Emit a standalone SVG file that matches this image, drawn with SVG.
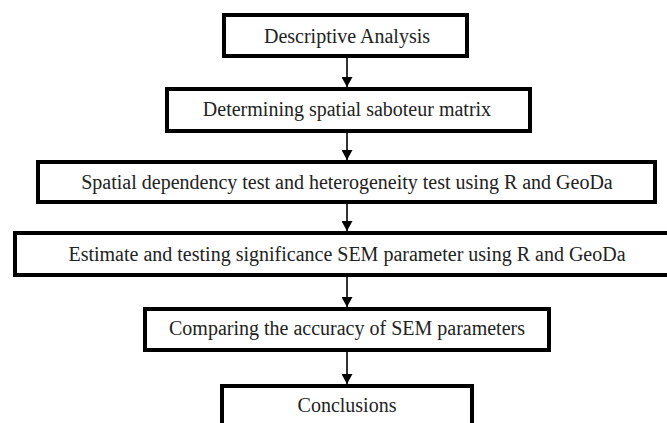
<svg xmlns="http://www.w3.org/2000/svg" width="667" height="423" viewBox="0 0 667 423">
<style>
.box{fill:#fff;stroke:#000;stroke-width:4}
.lbl{font-family:"Liberation Serif","Times New Roman",serif;font-size:20px;fill:#222;text-anchor:middle}
.con{stroke:#000;stroke-width:1.6;fill:none}
</style>
<defs>
<marker id="ah" markerWidth="10" markerHeight="11" refX="10" refY="5.5" orient="auto" markerUnits="userSpaceOnUse" viewBox="0 0 10 11">
<path d="M0,0 L10,5.5 L0,11 Z" fill="#000"/>
</marker>
</defs>
<rect width="667" height="423" fill="#fff"/>
<g id="connectors">
<line class="con" x1="347" y1="58" x2="347" y2="87" marker-end="url(#ah)"/>
<line class="con" x1="347" y1="133" x2="347" y2="160" marker-end="url(#ah)"/>
<line class="con" x1="347" y1="204" x2="347" y2="231" marker-end="url(#ah)"/>
<line class="con" x1="347" y1="277" x2="347" y2="307" marker-end="url(#ah)"/>
<line class="con" x1="347" y1="352" x2="347" y2="384" marker-end="url(#ah)"/>
</g>
<g id="n1"><rect class="box" x="224" y="15" width="243" height="41"/><text class="lbl" x="347" y="43">Descriptive Analysis</text></g>
<g id="n2"><rect class="box" x="167" y="89" width="363" height="42"/><text class="lbl" x="347" y="116">Determining spatial saboteur matrix</text></g>
<g id="n3"><rect class="box" x="38" y="162" width="617" height="40"/><text class="lbl" x="347" y="189">Spatial dependency test and heterogeneity test using R and GeoDa</text></g>
<g id="n4"><rect class="box" x="15" y="233" width="664" height="42"/><text class="lbl" x="347" y="261">Estimate and testing significance SEM parameter using R and GeoDa</text></g>
<g id="n5"><rect class="box" x="145" y="309" width="404" height="41"/><text class="lbl" x="347" y="335">Comparing the accuracy of SEM parameters</text></g>
<g id="n6"><rect class="box" x="222" y="386" width="250" height="60"/><text class="lbl" x="347" y="412">Conclusions</text></g>
</svg>
